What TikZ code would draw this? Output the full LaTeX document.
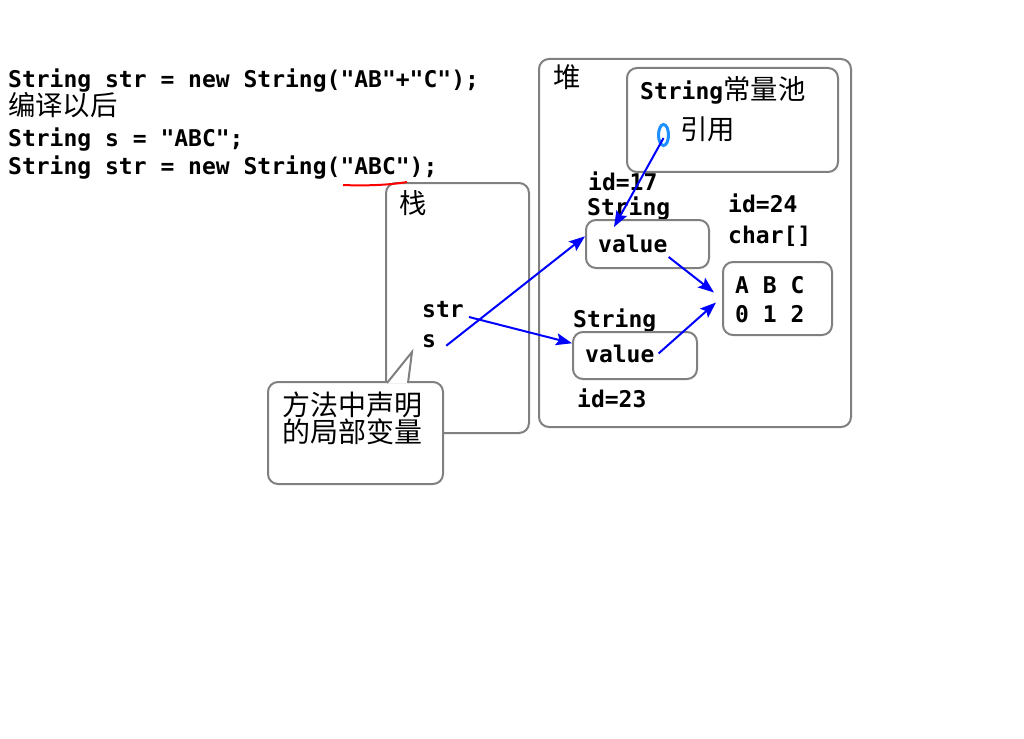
\documentclass[tikz,border=0pt]{standalone}
\usepackage{fontspec}
\setmonofont{DejaVu Sans Mono}
\newfontfamily\cjk[Scale=1.19]{Noto Sans CJK SC}
\usepackage{tikz}
\usetikzlibrary{shapes.geometric, arrows.meta, positioning, calc}
\definecolor{refblue}{RGB}{30,144,255}
\newcommand{\codefont}{\ttfamily\bfseries\fontsize{23}{28}\selectfont}
\newcommand{\zh}[1]{{\cjk\mdseries #1}}
\tikzstyle{code} = [font=\codefont, inner sep=0pt, anchor=base west]
\tikzstyle{frame} = [rectangle, draw=gray, line width=2pt, fill=white, rounded corners=10pt]
\tikzstyle{ref} = [draw=blue, line width=2pt, -{Stealth[length=16pt, width=12pt, inset=3pt]}]

\begin{document}
\begin{tikzpicture}[x=1pt, y=-1pt]
\useasboundingbox (0,0) rectangle (1024,738);

% Source code
\node (line1) [code] at (8,88) {String str = new String("AB"+"C");};
\node (line2) [code] at (8,116) {\zh{编译以后}};
\node (line3) [code] at (8,147) {String s = "ABC";};
\node (line4) [code] at (8,175) {String str = new String("ABC");};

% Stack
\node (stack) [frame, minimum width=143pt, minimum height=250pt] at (457.5,308) {};
\node (stacklbl) [code] at (399,213) {\zh{栈}};
\node (str) [code] at (422,317) {str};
\node (s) [code] at (422,347) {s};
\draw [red, line width=2pt] (343,185) .. controls (365,186) and (390,185) .. (407,182);

% Callout
\node (note) [frame, minimum width=175pt, minimum height=102pt] at (355.5,433) {};
\draw [draw=gray, line width=2pt, fill=white, line join=miter] (387,383) -- (412,352) -- (408,383);
\node (notetext) [inner sep=0pt, anchor=north west, align=left,
  font=\cjk\fontsize{23.5}{27}\selectfont] at (282,392) {方法中声明\\的局部变量};

% Heap
\node (heap) [frame, minimum width=312pt, minimum height=368pt] at (695,243) {};
\node (heaplbl) [code] at (553,88) {\zh{堆}};

% String pool
\node (pool) [frame, minimum width=211pt, minimum height=104pt] at (732.5,120) {};
\node (poollbl) [code] at (640,100) {String\zh{常量池}};
\node (refdot) [ellipse, draw=refblue, line width=3pt, fill=white, inner sep=0pt,
  minimum width=10pt, minimum height=21pt] at (663.5,135) {};
\node (reflbl) [code] at (680,140) {\zh{引用}};

% String id=17
\node (id17) [code] at (588,190) {id=17};
\node (type17) [code] at (587,215) {String};
\node (val1box) [frame, minimum width=123pt, minimum height=48pt] at (647.5,244) {};
\node (val1) [code] at (598,252) {value};

% char[] id=24
\node (id24) [code] at (728,212) {id=24};
\node (type24) [code] at (728,243) {char[]};
\node (abcbox) [frame, minimum width=109pt, minimum height=73pt] at (777.5,298.5) {};
\node (chars) [code] at (735,293) {A B C};
\node (index) [code] at (735,322) {0 1 2};

% String id=23
\node (type23) [code] at (573,327) {String};
\node (val2box) [frame, minimum width=124pt, minimum height=47pt] at (635,355.5) {};
\node (val2) [code] at (585,362) {value};
\node (id23) [code] at (577,407) {id=23};

% References
\draw [ref] ($(s.east)+(10,5)$) -- (val1box.173);
\draw [ref] ($(str.base east)+(5,0)$) -- (val2box.169);
\draw [ref] ($(refdot.center)+(0,3)$) -- ($(val1box.north west)+(29,8)$);
\draw [ref] ($(val1.base east)+(1,5)$) -- ($(abcbox.west)+(-8,-6)$);
\draw [ref] ($(val2.east)+(4,0)$) -- ($(abcbox.west)+(-6,4)$);

\end{tikzpicture}
\end{document}
